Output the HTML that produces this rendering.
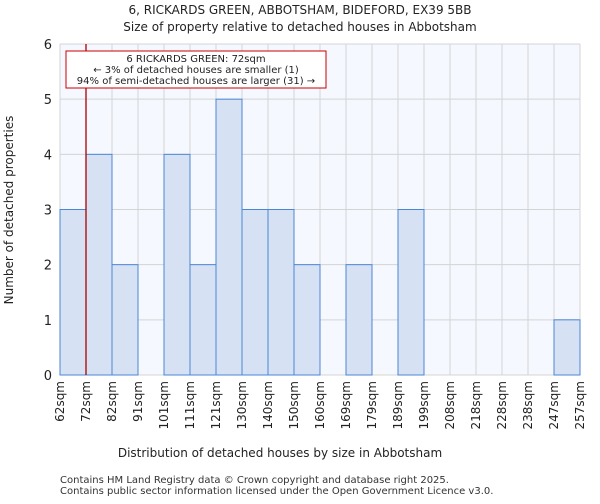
<!DOCTYPE html>
<html><head><meta charset="utf-8"><style>
body{margin:0;background:#fff;font-family:"DejaVu Sans","Liberation Sans",sans-serif;}
</style></head><body>
<svg width="600" height="500" xmlns="http://www.w3.org/2000/svg" font-family="DejaVu Sans, Liberation Sans, sans-serif">
<text x="300" y="14" text-anchor="middle" font-size="12" fill="#222">6, RICKARDS GREEN, ABBOTSHAM, BIDEFORD, EX39 5BB</text>
<text x="300" y="31" text-anchor="middle" font-size="12" fill="#222">Size of property relative to detached houses in Abbotsham</text>
<rect x="60" y="44" width="520" height="331" fill="#f5f8fe"/>
<g id="grid"></g>
<g id="bars"></g>
<g id="axes"></g>
<line id="marker" y1="44" y2="375" stroke="#aa0000" stroke-width="1.3"/>
<rect x="66" y="51" width="260" height="37" fill="#fff" stroke="#cc0000" stroke-width="1"/>
<text x="196" y="62" text-anchor="middle" font-size="10" fill="#222">6 RICKARDS GREEN: 72sqm</text>
<text x="196" y="73" text-anchor="middle" font-size="10" fill="#222">← 3% of detached houses are smaller (1)</text>
<text x="196" y="84" text-anchor="middle" font-size="10" fill="#222">94% of semi-detached houses are larger (31) →</text>
<text x="280" y="457" text-anchor="middle" font-size="12" fill="#222">Distribution of detached houses by size in Abbotsham</text>
<text transform="translate(13,210) rotate(-90)" text-anchor="middle" font-size="12" fill="#222">Number of detached properties</text>
<text x="60" y="483" font-size="10" fill="#333">Contains HM Land Registry data © Crown copyright and database right 2025.</text>
<text x="60" y="494" font-size="10" fill="#333">Contains public sector information licensed under the Open Government Licence v3.0.</text>
</svg>
<script>
const categories=["62sqm","72sqm","82sqm","91sqm","101sqm","111sqm","121sqm","130sqm","140sqm","150sqm","160sqm","169sqm","179sqm","189sqm","199sqm","208sqm","218sqm","228sqm","238sqm","247sqm","257sqm"];
const counts=[3,4,2,0,4,2,5,3,3,2,0,2,0,3,0,0,0,0,0,1];
const yTicks=[0,1,2,3,4,5,6];
const markerIndex=1;
const NS="http://www.w3.org/2000/svg";
const X0=60,X1=580,Y0=375,Y1=44,YMAX=6;
const bw=(X1-X0)/counts.length;
const xs=i=>X0+i*bw;
const ys=v=>Y0-(v/YMAX)*(Y0-Y1);
function mk(t,a,p){const e=document.createElementNS(NS,t);for(const k in a)e.setAttribute(k,a[k]);p.appendChild(e);return e;}
const grid=document.getElementById('grid'),bars=document.getElementById('bars'),axes=document.getElementById('axes');
for(let i=0;i<=counts.length;i++){const l=mk('line',{x1:xs(i),x2:xs(i),y1:Y1,y2:Y0,stroke:'#d4d4d4','stroke-width':1},grid);

}
yTicks.forEach(v=>{const l=mk('line',{x1:X0,x2:X1,y1:ys(v),y2:ys(v),stroke:'#d4d4d4','stroke-width':1},grid);


const t=mk('text',{x:X0-8,y:ys(v)+5,'text-anchor':'end','font-size':13,fill:'#222'},axes);t.textContent=v;

});
counts.forEach((c,i)=>{if(c<=0)return;const r=mk('rect',{x:xs(i),y:ys(c),width:bw,height:Y0-ys(c),fill:'#d6e2f3',stroke:'#4a86d4','stroke-width':1},bars);

});
categories.forEach((c,i)=>{const x=xs(i)+4,y=Y0+6;const t=mk('text',{x:x,y:y,'text-anchor':'end','font-size':12,fill:'#222',transform:`rotate(-90 ${x} ${y})`},axes);t.textContent=c;

});
const m=document.getElementById('marker');m.setAttribute('x1',xs(markerIndex));m.setAttribute('x2',xs(markerIndex));
</script>
</body></html>
